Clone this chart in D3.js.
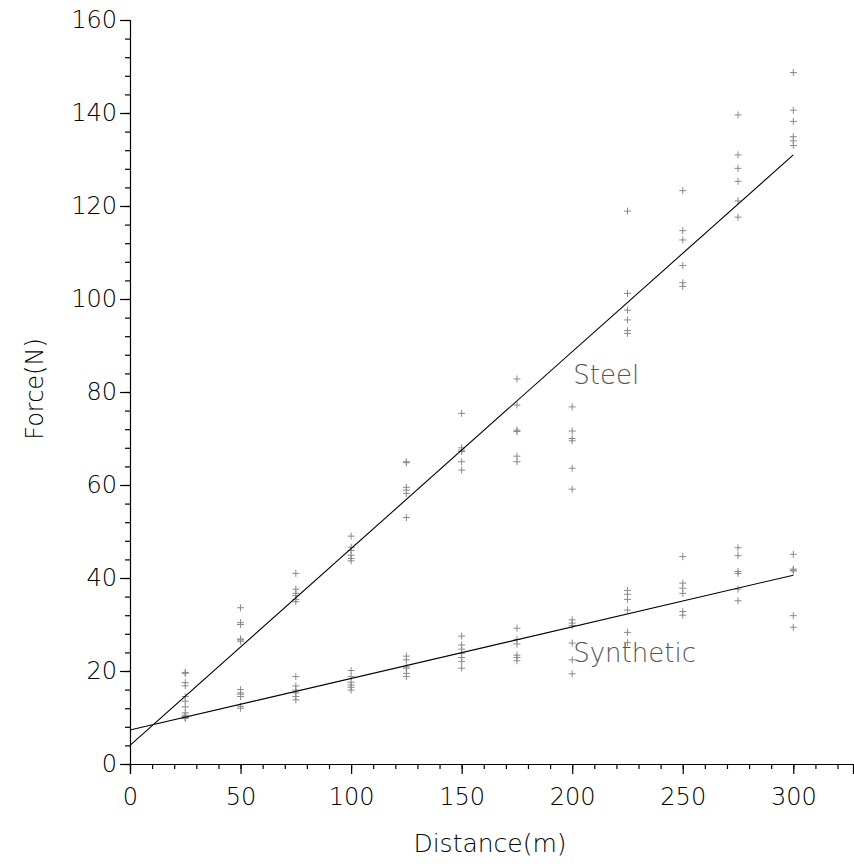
<!DOCTYPE html>
<html><head><meta charset="utf-8">
<script src="https://cdn.jsdelivr.net/npm/d3@7"></script>
<style>body{margin:0;background:#fff}svg{display:block}text{font-family:"DejaVu Sans",sans-serif;font-weight:200}</style>
</head><body><svg id="c" width="854" height="867"></svg>
<script>
const distances = [25,50,75,100,125,150,175,200,225,250,275,300];
const steelForce = [
  [19.7,19.5,17.5,16.8,14.5,13.5],
  [33.6,30.4,30.0,26.9,26.7,26.4],
  [41.0,37.6,36.7,36.2,35.4,34.9],
  [49.0,46.6,45.9,44.9,44.2,43.7],
  [65.0,64.8,59.5,58.9,58.2,53.0],
  [75.4,68.0,67.5,67.2,65.0,63.2],
  [82.8,77.2,71.8,71.5,66.2,65.0],
  [76.8,71.6,70.0,69.5,63.6,59.1],
  [118.9,101.2,97.6,95.5,93.2,92.6],
  [123.3,114.7,112.7,107.2,103.5,102.7],
  [139.6,131.0,128.1,125.3,121.1,117.6],
  [148.7,140.6,138.2,134.9,134.0,133.0]
];
const syntheticForce = [
  [12.3,11.0,10.5,10.2,10.0,9.8],
  [16.0,15.3,15.0,14.5,12.4,12.0],
  [18.8,16.8,15.9,15.3,14.5,13.8],
  [20.1,18.8,17.6,17.0,16.5,15.9],
  [23.2,22.4,20.9,20.6,19.5,18.8],
  [27.5,25.6,24.7,23.8,22.9,22.0,20.6],
  [29.2,26.8,25.8,23.4,22.9,22.2],
  [31.0,30.3,29.8,26.0,22.4,19.4],
  [37.3,36.5,35.4,33.1,28.3,26.1],
  [44.6,38.9,37.8,36.7,32.8,32.0],
  [46.5,44.8,41.4,41.0,37.6,35.1],
  [45.1,41.9,41.7,41.5,31.9,29.4]
];
// fitted lines: [intercept, slope]
const steelFit = [4.0, 0.4233];
const syntheticFit = [7.3, 0.1110];
const xTicks = [0,50,100,150,200,250,300];
const yTicks = [0,20,40,60,80,100,120,140,160];
const seriesLabels = ["Steel","Synthetic"];
const labelPos = [[200,81.7],[200,21.9]];

const svg = d3.select("#c");
const x = d3.scaleLinear().domain([0,327]).range([130,853]);
const y = d3.scaleLinear().domain([0,160]).range([764,20]);

const fontCss = "'DejaVu Sans', sans-serif";
// minor ticks
const gx = svg.append("g").attr("transform","translate(0,764)")
  .call(d3.axisBottom(x).tickValues(d3.range(0,330,10)).tickSize(5).tickFormat(""));
const gx2 = svg.append("g").attr("transform","translate(0,764)")
  .call(d3.axisBottom(x).tickValues(xTicks).tickSize(10).tickPadding(14).tickFormat(d3.format("d")));
const gy = svg.append("g").attr("transform","translate(130,0)")
  .call(d3.axisLeft(y).tickValues(d3.range(0,161,4)).tickSize(5).tickFormat(""));
const gy2 = svg.append("g").attr("transform","translate(130,0)")
  .call(d3.axisLeft(y).tickValues(yTicks).tickSize(10).tickPadding(3).tickFormat(d3.format("d")));
svg.selectAll(".domain").attr("stroke","#000").attr("stroke-width",1.2);
gx.select(".domain").remove(); gy.select(".domain").remove();
svg.selectAll(".tick line").attr("stroke","#000").attr("stroke-width",1.2);
svg.selectAll(".tick text").attr("font-size",24).attr("fill","#000")
  .style("font-family",fontCss).style("font-weight",200);

// points
function plus(g, pts){
  const s = 3.5;
  g.selectAll("path.p").data(pts).enter().append("path")
   .attr("d",d=>{const px=x(d[0]),py=y(d[1]);return `M${px-s},${py}H${px+s}M${px},${py-s}V${py+s}`;})
   .attr("stroke","#8a8a8a").attr("stroke-width",1).attr("fill","none");
}
const steelPts=[], synPts=[];
distances.forEach((d,i)=>{steelForce[i].forEach(v=>steelPts.push([d,v]));syntheticForce[i].forEach(v=>synPts.push([d,v]));});
plus(svg.append("g"), steelPts);
plus(svg.append("g"), synPts);

// lines
const line = d3.line().x(d=>x(d[0])).y(d=>y(d[1]));
[steelFit, syntheticFit].forEach(f=>{
  svg.append("path").datum([[0,f[0]],[300,f[0]+f[1]*300]]).attr("d",line)
    .attr("stroke","#000").attr("stroke-width",1.1).attr("fill","none");
});

// series labels
seriesLabels.forEach((t,i)=>{
  svg.append("text").attr("x",x(labelPos[i][0])+1).attr("y",y(labelPos[i][1])).text(t)
    .attr("font-size",26).attr("fill","#555");
});

// axis titles
svg.append("text").attr("x",490).attr("y",852).attr("text-anchor","middle")
  .attr("font-size",25).text("Distance(m)");
svg.append("text").attr("transform","translate(43,389) rotate(-90)").attr("text-anchor","middle")
  .attr("font-size",24).text("Force(N)");
</script></body></html>
